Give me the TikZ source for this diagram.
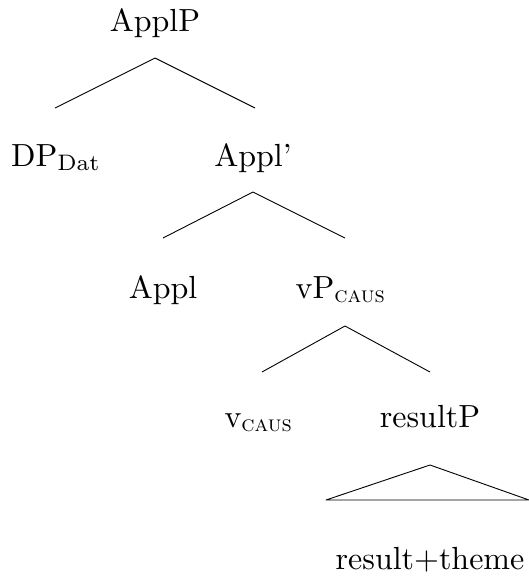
\documentclass[tikz,border=0pt]{standalone}
\usepackage{fontspec}
% labels are set at 10pt and enlarged, keeping the 10pt design weight
\newcommand{\treelabel}[1]{\scalebox{3.2}{#1}}
\begin{document}
\begin{tikzpicture}[x=1pt,y=-1pt,
  lbl/.style={anchor=base,inner sep=0pt,font=\fontsize{10}{12}\selectfont},
  edge/.style={line width=0.9pt,line join=round}]
\useasboundingbox (0,0) rectangle (529,579);
% labels
\node[lbl] (applp) at (155,31) {\treelabel{ApplP}};
\node[lbl] (dp) at (56,166) {\treelabel{DP\textsubscript{Dat}}};
\node[lbl] (applbar) at (253,166) {\treelabel{Appl'}};
\node[lbl] (appl) at (163,298) {\treelabel{Appl}};
\node[lbl] (vp) at (341,298) {\treelabel{vP\textsubscript{\textsc{caus}}}};
\node[lbl] (v) at (259,427) {\treelabel{v\textsubscript{\textsc{caus}}}};
\node[lbl] (resp) at (430,427) {\treelabel{resultP}};
\node[lbl] (rt) at (430,569) {\treelabel{result+theme}};
% branch points
\coordinate (a0) at (155,58);
\coordinate (a1) at (55,108);
\coordinate (a2) at (255,108);
\coordinate (b0) at (253,192);
\coordinate (b1) at (163,238);
\coordinate (b2) at (345,238);
\coordinate (c0) at (345,326);
\coordinate (c1) at (262,372);
\coordinate (c2) at (430,372);
\coordinate (t0) at (430,465);
\coordinate (t1) at (326,500);
\coordinate (t2) at (529,500);
\draw[edge] (a1) -- (a0) -- (a2);
\draw[edge] (b1) -- (b0) -- (b2);
\draw[edge] (c1) -- (c0) -- (c2);
\draw[edge] (t0) -- (t1) -- (t2) -- cycle;
\end{tikzpicture}
\end{document}
